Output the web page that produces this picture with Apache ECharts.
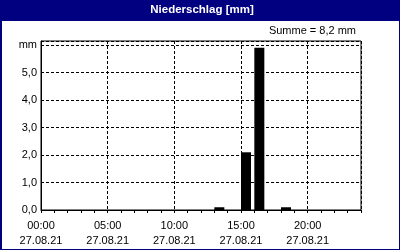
<!DOCTYPE html>
<html><head><meta charset="utf-8">
<script src="https://cdn.jsdelivr.net/npm/echarts@6/dist/echarts.min.js"></script>
<style>html,body{margin:0;padding:0;background:#fff}#c{width:400px;height:250px}</style>
</head><body><div id="c"></div>
<script>
const title = 'Niederschlag [mm]';
const sumText = 'Summe = 8,2 mm';
const dateLabel = '27.08.21';
const hours = [0,1,2,3,4,5,6,7,8,9,10,11,12,13,14,15,16,17,18,19,20,21,22,23];
const rain  = [0,0,0,0,0,0,0,0,0,0,0,0,0,0.1,0,2.1,5.9,0,0.1,0,0,0,0,0];
const yTicks = [0,1,2,3,4,5,6];
const yUnit = 'mm';

const navy = '#000080';
const font = 'Liberation Sans';
const barW = 10, hourPx = 320/24;
const barOffset = (barW/2)/hourPx;

const chart = echarts.init(document.getElementById('c'), null, {renderer:'canvas'});
chart.setOption({
  animation:false,
  backgroundColor:'#fff',
  graphic:[
    {type:'rect', shape:{x:0,y:0,width:400,height:21}, style:{fill:navy}, z:-1},
    {type:'rect', shape:{x:0,y:0,width:2,height:250}, style:{fill:navy}},
    {type:'rect', shape:{x:399,y:0,width:1,height:250}, style:{fill:navy}},
    {type:'rect', shape:{x:0,y:249,width:400,height:1}, style:{fill:navy}},
    {type:'text', x:202, y:10, style:{text:title, fill:'#fff', font:'bold 11.5px "'+font+'"', align:'center', verticalAlign:'middle'}},
    {type:'text', x:356, y:31, style:{text:sumText, fill:'#000', font:'11px "'+font+'"', align:'right', verticalAlign:'middle'}}
  ],
  grid:{left:41, top:41, right:39, bottom:40, show:true, borderColor:'#000', borderWidth:1, backgroundColor:'transparent'},
  xAxis:[
    {type:'value', min:0, max:24, interval:5,
     axisLine:{show:true, lineStyle:{color:'#000'}}, axisTick:{show:false},
     splitLine:{show:true, lineStyle:{color:'#000', type:[3,2]}},
     axisLabel:{color:'#000', fontFamily:font, fontSize:11, lineHeight:15, margin:8,
       formatter:function(v){ if(v%5!==0||v>=24) return ''; return String(v).padStart(2,'0')+':00\n'+dateLabel; }}},
    {type:'value', min:0, max:24, interval:1, position:'bottom',
     axisLine:{show:false}, axisTick:{show:true, length:3, lineStyle:{color:'#000'}},
     splitLine:{show:false}, axisLabel:{show:false}}
  ],
  yAxis:{type:'value', min:0, max:6.15, interval:1,
    axisLine:{show:true, lineStyle:{color:'#000'}}, axisTick:{show:false},
    splitLine:{show:true, lineStyle:{color:'#000', type:[3,2]}},
    axisLabel:{color:'#000', fontFamily:font, fontSize:11, margin:4,
      formatter:function(v){ if(!yTicks.includes(v)) return ''; if(v===6) return yUnit; return v.toFixed(1).replace('.',','); }}},
  series:[{type:'bar', xAxisIndex:0, barWidth:barW, itemStyle:{color:'#000'},
    data: hours.map((h,i)=>[h+barOffset, rain[i]])}]
});
</script></body></html>
